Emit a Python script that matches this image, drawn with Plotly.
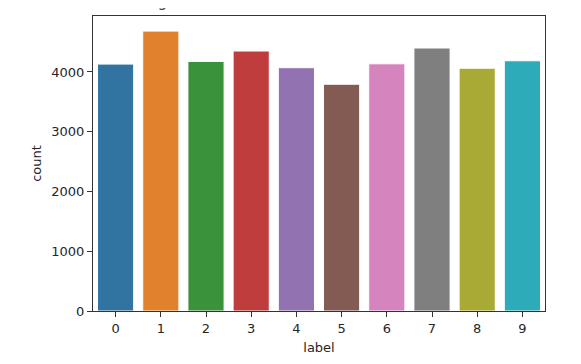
import plotly.graph_objects as go

labels = ["0", "1", "2", "3", "4", "5", "6", "7", "8", "9"]
counts = [4132, 4684, 4177, 4351, 4072, 3795, 4137, 4401, 4063, 4188]
colors = ["#3274a1", "#e1812c", "#3a923a", "#c03d3e", "#9372b2",
          "#845b53", "#d684bd", "#7f7f7f", "#a9aa35", "#2eabb8"]
y_ticks = [0, 1000, 2000, 3000, 4000]

fig = go.Figure(go.Bar(
    x=labels, y=counts,
    marker=dict(color=colors, line=dict(color="white", width=1)),
))

axis_common = dict(
    showline=True, linecolor="#333333", linewidth=1, mirror=True,
    ticks="outside", ticklen=5, tickcolor="#333333",
    showgrid=False, zeroline=False, automargin=False,
    tickfont=dict(family="DejaVu Sans", size=13, color="#262626"),
)

fig.update_layout(
    width=573, height=356,
    margin=dict(l=85, r=36, t=8, b=53),
    plot_bgcolor="white", paper_bgcolor="white",
    bargap=0.2,
    showlegend=False,
    xaxis=dict(**axis_common, type="category", range=[-0.5, 9.5],
               title=dict(text="label", standoff=8,
                          font=dict(family="DejaVu Sans", size=13, color="#262626"))),
    yaxis=dict(**axis_common, range=[0, 4937], tickvals=y_ticks,
               title=dict(text="count", standoff=6,
                          font=dict(family="DejaVu Sans", size=13, color="#262626"))),
    annotations=[dict(
        text="FutureWarning", xref="paper", yref="paper",
        x=(32 - 85) / 452, y=(311 - 16) / 295 + 0.009, xanchor="left", yanchor="bottom",
        showarrow=False,
        font=dict(family="DejaVu Sans Mono", size=16, color="#444444"),
    )],
)

fig.write_html("out.html")
